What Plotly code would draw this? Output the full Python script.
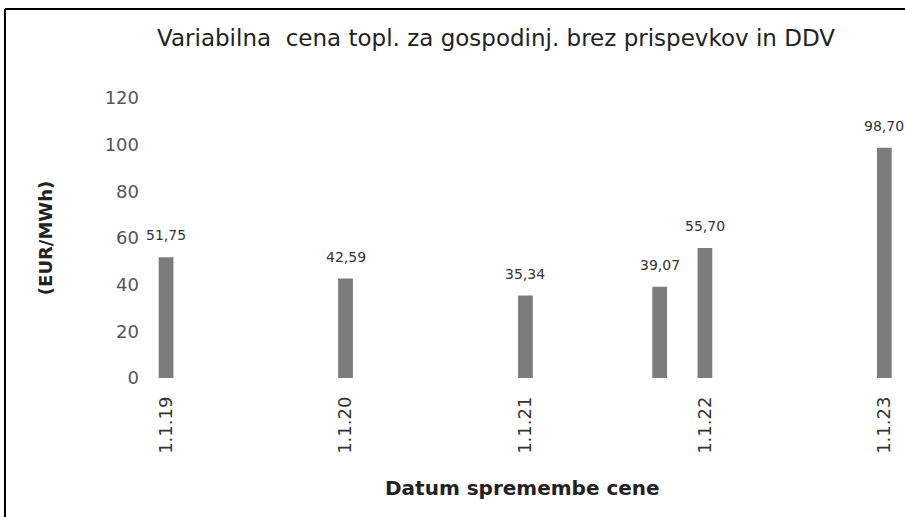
import plotly.graph_objects as go

# Data
dates = ["2019-01-01", "2020-01-01", "2021-01-01", "2021-10-01", "2022-01-01", "2023-01-01"]
values = [51.75, 42.59, 35.34, 39.07, 55.70, 98.70]
tick_dates = ["2019-01-01", "2020-01-01", "2021-01-01", "2022-01-01", "2023-01-01"]
tick_labels = ["1.1.19", "1.1.20", "1.1.21", "1.1.22", "1.1.23"]

title_text = "Variabilna  cena topl. za gospodinj. brez prispevkov in DDV"
y_title = "(EUR/MWh)"
x_title = "Datum spremembe cene"

DAY_MS = 86400000

fig = go.Figure()
fig.add_trace(go.Bar(
    x=dates, y=values,
    width=[30 * DAY_MS] * len(values),
    marker=dict(color="#7c7c7c", line=dict(width=0)),
    hoverinfo="x+y",
))

annotations = []
for d, v in zip(dates, values):
    annotations.append(dict(
        x=d, y=v, xref="x", yref="y",
        text=f"{v:.2f}".replace(".", ","),
        showarrow=False, yanchor="middle", yshift=22,
        font=dict(family="DejaVu Sans", size=14, color="#333333"),
    ))

# axis titles
annotations.append(dict(
    x=0.5, y=-0.393, xref="paper", yref="paper", text=f"<b>{x_title}</b>",
    showarrow=False, yanchor="middle", xanchor="center",
    font=dict(family="DejaVu Sans", size=20, color="#222222"),
))
annotations.append(dict(
    x=-0.124, y=0.5, xref="paper", yref="paper", text=f"<b>{y_title}</b>",
    showarrow=False, yanchor="middle", xanchor="center", textangle=-90,
    font=dict(family="DejaVu Sans", size=18, color="#222222"),
))

shapes = [
    dict(type="line", xref="paper", yref="paper", x0=-0.1765, x1=-0.1765, y0=1.318, y1=-0.5,
         line=dict(color="black", width=2)),
    dict(type="line", xref="paper", yref="paper", x0=-0.1765, x1=1.0, y0=1.318, y1=1.318,
         line=dict(color="black", width=2)),
]

fig.update_layout(
    width=905, height=517,
    margin=dict(l=140, r=0, t=98, b=139),
    paper_bgcolor="white", plot_bgcolor="white",
    showlegend=False,
    title=dict(text=title_text, x=496 / 905, xanchor="center", xref="container",
               y=1 - 38 / 517, yanchor="middle", yref="container",
               font=dict(family="DejaVu Sans", size=23, color="#222222")),
    xaxis=dict(type="date", range=["2018-11-09", "2023-02-12"],
               tickvals=tick_dates, ticktext=tick_labels, tickangle=-90,
               showgrid=False, showline=False, zeroline=False, ticks="",
               ticklabelstandoff=14,
               tickfont=dict(family="DejaVu Sans", size=18, color="#333333")),
    yaxis=dict(range=[0, 120], dtick=20, showgrid=False, showline=False, zeroline=False,
               ticks="", tickfont=dict(family="DejaVu Sans", size=18, color="#555555")),
    annotations=annotations,
    shapes=shapes,
)

fig.write_html("out.html", config={"displayModeBar": False})

# remove default page margin so the figure sits at the window's top-left corner
with open("out.html", "r", encoding="utf-8") as f:
    html = f.read()
html = html.replace("<body>", '<body style="margin:0;overflow:hidden">', 1)
with open("out.html", "w", encoding="utf-8") as f:
    f.write(html)
